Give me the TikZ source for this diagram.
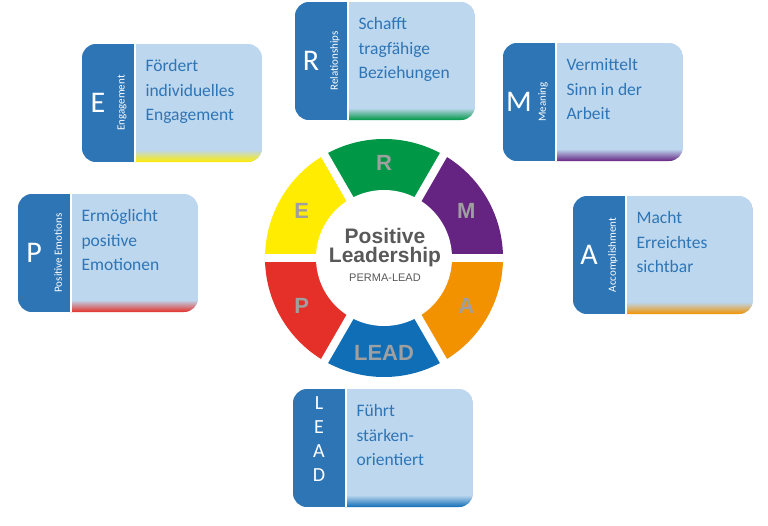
\documentclass[tikz,border=0pt]{standalone}
\usepackage{fontspec}
\setmainfont{Carlito}
\newfontfamily\arialfont{Liberation Sans}
\usetikzlibrary{positioning,calc}
\definecolor{tabblue}{RGB}{46,117,182}
\definecolor{cardblue}{RGB}{189,215,238}
\definecolor{permaR}{RGB}{0,152,70}
\definecolor{permaM}{RGB}{102,36,130}
\definecolor{permaA}{RGB}{242,146,0}
\definecolor{permaL}{RGB}{16,110,182}
\definecolor{permaP}{RGB}{228,48,40}
\definecolor{permaE}{RGB}{255,236,0}
\definecolor{centergray}{RGB}{89,89,89}

% card: x, y, letter, word, text, strip colour, name
\newcommand\permacard[7]{%
  \begin{scope}
    \clip[rounded corners=14pt] (#1,#2) rectangle +(180,118);
    \fill[card box] (#1,#2) rectangle +(180,118);
    \shade[top color=cardblue,bottom color=#6] (#1+52,#2+106) rectangle +(128,12);
    \fill[card tab] (#1,#2) rectangle +(52,118);
    \draw[white,line width=2.5pt] (#1+53,#2) -- +(0,118);
  \end{scope}
  \node[card letter] (#7 letter) at (#1+16,#2+59) {#3};
  \node[card word] (#7 word) at (#1+40,#2+59) {#4};
  \node[card text] (#7 text) at (#1+60,#2+12) {#5};
}

\begin{document}
\begin{tikzpicture}[x=1pt,y=-1pt,
    % styles
    card box/.style={fill=cardblue},
    card tab/.style={fill=tabblue},
    card letter/.style={text=white,font=\fontsize{30}{30}\selectfont,inner sep=0pt},
    card word/.style={text=white,rotate=90,font=\fontsize{11}{11}\selectfont,inner sep=0pt},
    card text/.style={anchor=north west,align=left,text=tabblue,font=\fontsize{17.5}{24.5}\selectfont},
    ring letter/.style={text=gray!75,font=\arialfont\bfseries\fontsize{22}{22}\selectfont},
    gap line/.style={white,line width=8pt}]

  \useasboundingbox (0,0) rectangle (768,525);

  % ring
  \coordinate (c) at (384,258);
  \foreach \a/\col in {-90/permaR,-30/permaM,30/permaA,90/permaL,150/permaP,210/permaE}
    \fill[\col] (c) ++(\a-30:119) arc[start angle=\a-30,end angle=\a+30,radius=119] -- (c) -- cycle;
  \foreach \a in {0,60,...,300}
    \draw[gap line] (c) -- ++(\a:125);
  \fill[white] (c) circle[radius=68];

  % ring letters
  \node[ring letter] (ring R) at ($(c)+(-90:95)$) {R};
  \node[ring letter] (ring M) at ($(c)+(-30:95)$) {M};
  \node[ring letter] (ring A) at ($(c)+(30:95)$) {A};
  \node[ring letter] (ring LEAD) at ($(c)+(90:95)$) {LEAD};
  \node[ring letter] (ring P) at ($(c)+(150:95)$) {P};
  \node[ring letter] (ring E) at ($(c)+(210:95)$) {E};

  % center text
  \node[text=centergray,font=\arialfont\bfseries\fontsize{21}{21}\selectfont] (positive) at (385,236) {Positive};
  \node[text=centergray,font=\arialfont\bfseries\fontsize{21}{21}\selectfont,below=-3pt of positive] (leadership) {Leadership};
  \node[text=centergray,font=\arialfont\fontsize{11}{11}\selectfont,below=0pt of leadership] (perma) {PERMA-LEAD};

  % cards
  \permacard{295}{2}{R}{Relationships}{Schafft\\tragfähige\\Beziehungen}{permaR}{rel}
  \permacard{82}{44}{E}{Engagement}{Fördert\\individuelles\\Engagement}{permaE}{eng}
  \permacard{503}{43}{M}{Meaning}{Vermittelt\\Sinn in der\\Arbeit}{permaM}{mea}
  \permacard{18}{194}{P}{Positive Emotions}{Ermöglicht\\positive\\Emotionen}{permaP}{pos}
  \permacard{573}{196}{A}{Accomplishment}{Macht\\Erreichtes\\sichtbar}{permaA}{acc}
  \permacard{293}{389}{}{}{Führt\\stärken-\\orientiert}{permaL}{lead}

  % LEAD letters
  \foreach \l [count=\i] in {L,E,A,D}
    \node[text=white,font=\fontsize{20}{20}\selectfont] (lead \l) at (319,389+\i*24-10) {\l};

\end{tikzpicture}
\end{document}
